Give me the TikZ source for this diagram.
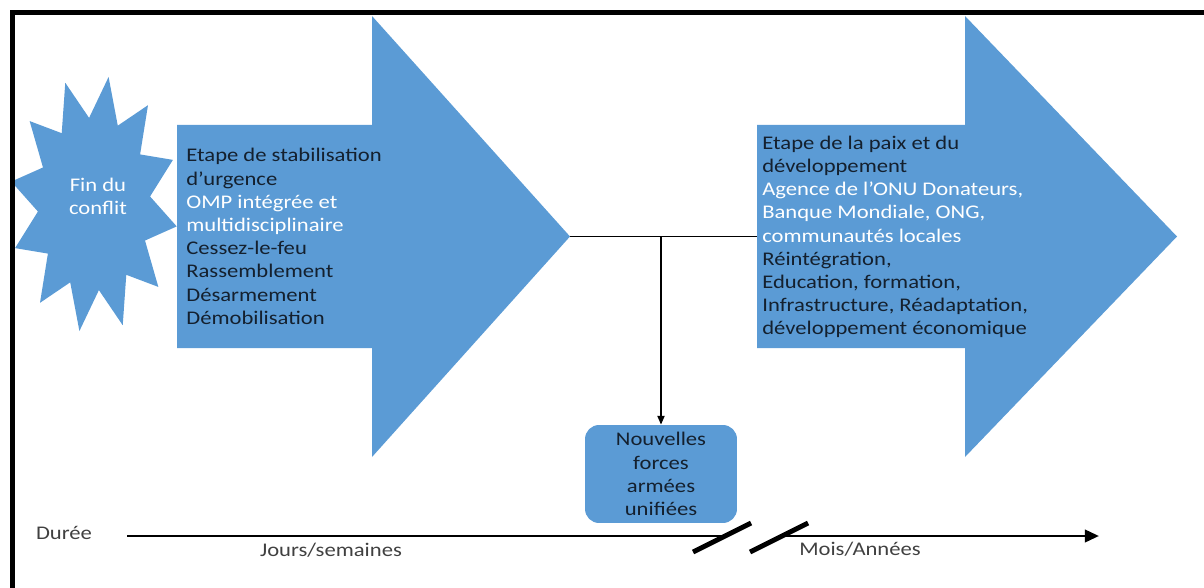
\documentclass[tikz,border=0pt]{standalone}
\usepackage{fontspec}
\setmainfont{Carlito}[FakeStretch=1.17]
\usetikzlibrary{arrows.meta}
\definecolor{ofblue}{RGB}{91,155,213}
\definecolor{ink}{HTML}{14202E}
\definecolor{labelgrey}{HTML}{404040}
\newcommand{\wline}[1]{\textcolor{white}{#1}}

\begin{document}
\begin{tikzpicture}[x=0.02cm, y=-0.02cm,
    blk/.style={fill=ofblue},
    txt/.style={font=\fontsize{11}{13.2}\selectfont\color{ink}, inner sep=0pt, align=left},
    lbl/.style={font=\fontsize{11}{13.2}\selectfont\color{labelgrey}, inner sep=0pt},
    box/.style={fill=ofblue, rounded corners=8pt, minimum width=3.04cm, minimum height=1.96cm,
                inner sep=0pt, align=center, font=\fontsize{11}{13.2}\selectfont\color{ink}},
    link/.style={line width=1pt},
    timeline/.style={line width=1.6pt},
    slash/.style={line width=2.8pt}]
  \useasboundingbox (0,0) rectangle (1204,588);

  % burst and the two stage arrows
  \fill[blk] plot[samples at={0,15,...,345}]
    ({94+84*(1-0.33*mod(\x/15,2))*sin(\x+10)}, {204-129*(1-0.33*mod(\x/15,2))*cos(\x+10)}) -- cycle;
  \fill[blk] (177,125) -- (372,125) -- (372,16) -- (570,236.5) -- (372,457) -- (372,348) -- (177,348) -- cycle;
  \fill[blk] (757,125) -- (965,125) -- (965,16) -- (1177,236.5) -- (965,457) -- (965,348) -- (757,348) -- cycle;

  \node[txt, align=center] (fin) at (98,196) {\wline{Fin du}\\\wline{conflit}};
  \node[txt, anchor=west] (stab) at (186,236.5) {Etape de stabilisation\\d’urgence\\
    \wline{OMP intégrée et}\\\wline{multidisciplinaire}\\
    Cessez-le-feu\\Rassemblement\\Désarmement\\Démobilisation};
  \node[txt, anchor=west] (paix) at (762,237) {Etape de la paix et du\\développement\\
    \wline{Agence de l’ONU Donateurs,}\\\wline{Banque Mondiale, ONG,}\\
    \wline{communautés locales}\\Réintégration,\\Education, formation,\\
    Infrastructure, Réadaptation,\\développement économique};

  \coordinate (tipL) at (570,236.5);
  \coordinate (bodyR) at (757,236.5);
  \coordinate (split) at (661,236.5);
  \node[box] (forces) at (661,474) {Nouvelles\\forces\\armées\\unifiées};

  \draw[link] (tipL) -- (bodyR);
  \draw[link, -{Triangle[length=5pt,width=4pt]}] (split) -- (forces.north);

  % time axis
  \node[lbl] (duree) at (64,533) {Durée};
  \coordinate (t0) at (127,536);
  \coordinate (cutA) at (722,536);
  \coordinate (cutB) at (779,536);
  \coordinate (t1) at (1099,536);
  \draw[timeline] (t0) -- (cutA);
  \draw[timeline, -{Triangle[length=8pt,width=7pt]}] (cutB) -- (t1);
  \draw[slash] ([shift={(-29,16)}]cutA) -- ([shift={(29,-13)}]cutA);
  \draw[slash] ([shift={(-29,16)}]cutB) -- ([shift={(29,-13)}]cutB);
  \node[lbl] (jours) at (331,550) {Jours/semaines};
  \node[lbl] (mois) at (860,549) {Mois/Années};

  \draw[line width=2.8pt] (12.5,588) -- (12.5,12.5) -- (1204,12.5);
\end{tikzpicture}
\end{document}
